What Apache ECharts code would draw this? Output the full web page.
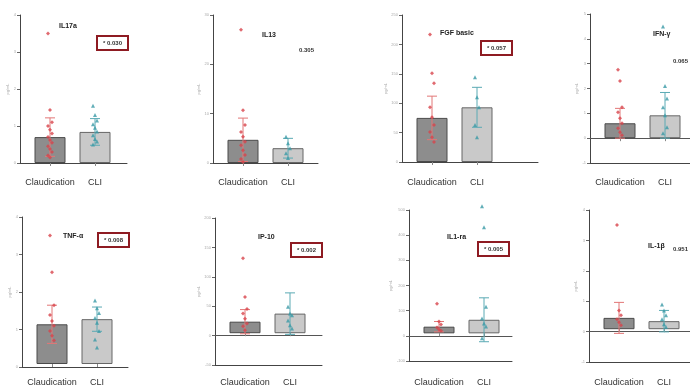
<!DOCTYPE html>
<html>
<head>
<meta charset="utf-8">
<script src="https://cdn.jsdelivr.net/npm/echarts@6/dist/echarts.min.js"></script>
<style>
html,body{margin:0;padding:0;background:#fff;}
#chart{width:690px;height:387px;}
</style>
</head>
<body>
<div id="chart"></div>
<script>
// ---- data ----
const categories = ['Claudication', 'CLI'];
const titles = ['IL17a', 'IL13', 'FGF basic', 'IFN-γ', 'TNF-α', 'IP-10', 'IL1-ra', 'IL-1β'];
const pLabels = ['* 0.030', '0.305', '* 0.057', '0.065', '* 0.008', '* 0.002', '* 0.005', '0.951'];
const pSignificant = [true, false, true, false, true, true, true, false];
const yMins = [0, 0, 0, -1, 0, -50, -100, -1];
const yMaxs = [4, 30, 250, 5, 4, 200, 500, 4];
const yIntervals = [1, 10, 50, 1, 1, 50, 100, 1];
const meanClaudication = [0.70, 4.7, 75, 0.60, 1.08, 20, 27, 0.38];
const meanCLI = [0.84, 3.0, 93, 0.92, 1.22, 34, 55, 0.27];
const sdClaudication = [0.52, 4.4, 37, 0.60, 0.52, 21, 21, 0.52];
const sdCLI = [0.36, 2.0, 34, 0.92, 0.33, 36, 89, 0.36];
const pointsClaudication = [
  [3.5, 1.43, 1.1, 1.0, 0.9, 0.8, 0.7, 0.62, 0.55, 0.45, 0.38, 0.3, 0.2, 0.15],
  [27, 10.7, 7.7, 6.3, 5.3, 4.3, 3.6, 2.6, 1.6, 0.8, 0.2],
  [217, 151, 134, 93, 76, 63, 51, 42, 34],
  [2.76, 2.3, 1.24, 1.04, 0.8, 0.6, 0.4, 0.24, 0.12],
  [3.5, 2.5, 1.6, 1.33, 1.17, 1.04, 0.9, 0.77, 0.64],
  [130, 63, 42, 34, 25, 17, 12, 5],
  [120, 48, 36, 24, 16, 10],
  [3.5, 0.63, 0.47, 0.33, 0.23, 0.13]
];
const pointsCLI = [
  [1.55, 1.3, 1.15, 1.05, 0.95, 0.85, 0.75, 0.65, 0.58, 0.5],
  [5.3, 4.0, 3.0, 2.0, 1.0],
  [144, 110, 93, 63, 42],
  [4.5, 2.1, 1.6, 1.24, 0.92, 0.44, 0.2],
  [1.73, 1.52, 1.39, 1.25, 1.12, 0.9, 0.67, 0.45],
  [46, 34, 31, 22, 14, 8],
  [515, 430, 108, 60, 40, 28, -20],
  [0.83, 0.63, 0.47, 0.33, 0.17, 0.07]
];

// ---- layout (pixels) ----
const layout = [
  {x: 20,  top: 15,  bottom: 163, end: 127, labelMargin: 15},
  {x: 213, top: 15,  bottom: 163, end: 318, labelMargin: 15},
  {x: 402, top: 15,  bottom: 162, end: 538, labelMargin: 16},
  {x: 590, top: 14,  bottom: 163, end: 700, labelMargin: 15},
  {x: 22,  top: 217, bottom: 367, end: 128, labelMargin: 14},
  {x: 215, top: 218, bottom: 365, end: 322, labelMargin: 16},
  {x: 409, top: 210, bottom: 361, end: 512, labelMargin: 20},
  {x: 589, top: 210, bottom: 362, end: 700, labelMargin: 19}
];
const titlePos = [[59,23],[262,32],[440,30],[653,31],[63,233],[258,234],[447,234],[648,243]];
const pPos = [[97,36],[299,47],[481,41],[673,58],[98,233],[291,243],[478,242],[673,246]];

const FONT = 'Liberation Sans';
const RED = '#d8434b', TEAL = '#3a9aa6';
const ERR_RED = '#e27676', ERR_TEAL = '#5aaab4';

const option = {
  backgroundColor: '#fff',
  animation: false,
  textStyle: {fontFamily: FONT},
  grid: [], xAxis: [], yAxis: [], series: [], title: []
};

layout.forEach((L, i) => {
  const frameGrid = option.grid.length;
  option.grid.push({left: L.x, top: L.top, width: L.end - L.x, height: L.bottom - L.top, containLabel: false});
  const barGrid = option.grid.length;
  option.grid.push({left: L.x + 7.5, top: L.top, width: 90, height: L.bottom - L.top, containLabel: false});

  // frame axes
  option.xAxis.push({
    gridIndex: frameGrid, type: 'value', min: 0, max: 1, position: 'bottom',
    axisLine: {show: true, onZero: false, lineStyle: {color: '#444', width: 1}},
    axisTick: {show: false}, axisLabel: {show: false}, splitLine: {show: false}
  });
  if (yMins[i] < 0) {
    option.xAxis.push({
      gridIndex: frameGrid, type: 'value', min: 0, max: 1, position: 'top',
      axisLine: {show: true, onZero: true, lineStyle: {color: '#555', width: 1}},
      axisTick: {show: false}, axisLabel: {show: false}, splitLine: {show: false}
    });
  }
  option.yAxis.push({
    gridIndex: frameGrid, type: 'value', min: yMins[i], max: yMaxs[i], interval: yIntervals[i],
    name: 'pg/mL', nameLocation: 'middle', nameGap: 9,
    nameTextStyle: {fontSize: 4, color: '#aaa'},
    axisLine: {show: true, lineStyle: {color: '#444', width: 1}},
    axisTick: {show: true, length: 3, lineStyle: {color: '#666'}},
    axisLabel: {show: true, fontSize: 4, color: '#aaa', margin: 4},
    splitLine: {show: false}
  });

  // bar axes
  const barX = option.xAxis.length;
  option.xAxis.push({
    gridIndex: barGrid, type: 'category', data: categories,
    axisLine: {show: false},
    axisTick: {show: true, alignWithLabel: true, interval: 0, length: 3, lineStyle: {color: '#888'}},
    axisLabel: {show: true, interval: 0, hideOverlap: false, fontSize: 9, color: '#333', margin: L.labelMargin, fontFamily: FONT}
  });
  const barY = option.yAxis.length;
  option.yAxis.push({
    gridIndex: barGrid, type: 'value', min: yMins[i], max: yMaxs[i], interval: yIntervals[i], show: false
  });

  option.series.push({
    type: 'bar', xAxisIndex: barX, yAxisIndex: barY, barWidth: 31, z: 2,
    data: [
      {value: meanClaudication[i], itemStyle: {color: '#8d8d8d', borderColor: '#4a4a4a', borderWidth: 1}},
      {value: meanCLI[i], itemStyle: {color: '#c9c9c9', borderColor: '#666', borderWidth: 1}}
    ]
  });

  option.series.push({
    type: 'custom', xAxisIndex: barX, yAxisIndex: barY, z: 4, clip: false,
    data: [[0, meanClaudication[i], sdClaudication[i]], [1, meanCLI[i], sdCLI[i]]],
    renderItem: function (params, api) {
      const x = api.value(0), m = api.value(1), s = api.value(2);
      const hi = api.coord([x, m + s]);
      const lo = api.coord([x, m - s]);
      const col = params.dataIndex === 0 ? ERR_RED : ERR_TEAL;
      const st = {stroke: col, lineWidth: 1};
      const w = 5;
      return {type: 'group', children: [
        {type: 'line', shape: {x1: hi[0], y1: hi[1], x2: lo[0], y2: lo[1]}, style: st},
        {type: 'line', shape: {x1: hi[0] - w, y1: hi[1], x2: hi[0] + w, y2: hi[1]}, style: st},
        {type: 'line', shape: {x1: lo[0] - w, y1: lo[1], x2: lo[0] + w, y2: lo[1]}, style: st}
      ]};
    }
  });

  const jitter = k => [((k % 3) - 1) * 2, 0];
  option.series.push({
    type: 'scatter', xAxisIndex: barX, yAxisIndex: barY, z: 5, clip: false,
    symbol: 'diamond', symbolSize: 4,
    itemStyle: {color: RED, opacity: 0.8},
    data: pointsClaudication[i].map((v, k) => ({value: [0, v], symbolOffset: jitter(k)}))
  });
  option.series.push({
    type: 'scatter', xAxisIndex: barX, yAxisIndex: barY, z: 5, clip: false,
    symbol: 'triangle', symbolSize: 4,
    itemStyle: {color: TEAL, opacity: 0.8},
    data: pointsCLI[i].map((v, k) => ({value: [1, v], symbolOffset: jitter(k)}))
  });

  option.title.push({
    text: titles[i], left: titlePos[i][0], top: titlePos[i][1], padding: 0,
    textStyle: {fontSize: 7, fontWeight: 'bold', color: '#222', fontFamily: FONT}
  });
  if (pSignificant[i]) {
    option.title.push({
      text: pLabels[i], left: pPos[i][0], top: pPos[i][1], padding: [4, 6],
      borderColor: '#8e1b22', borderWidth: 2, backgroundColor: '#fff',
      textStyle: {fontSize: 6, fontWeight: 'bold', color: '#333', fontFamily: FONT}
    });
  } else {
    option.title.push({
      text: pLabels[i], left: pPos[i][0], top: pPos[i][1], padding: 0,
      textStyle: {fontSize: 6, fontWeight: 'bold', color: '#333', fontFamily: FONT}
    });
  }
});

const chart = echarts.init(document.getElementById('chart'), null, {renderer: 'canvas'});
chart.setOption(option);
</script>
</body>
</html>
